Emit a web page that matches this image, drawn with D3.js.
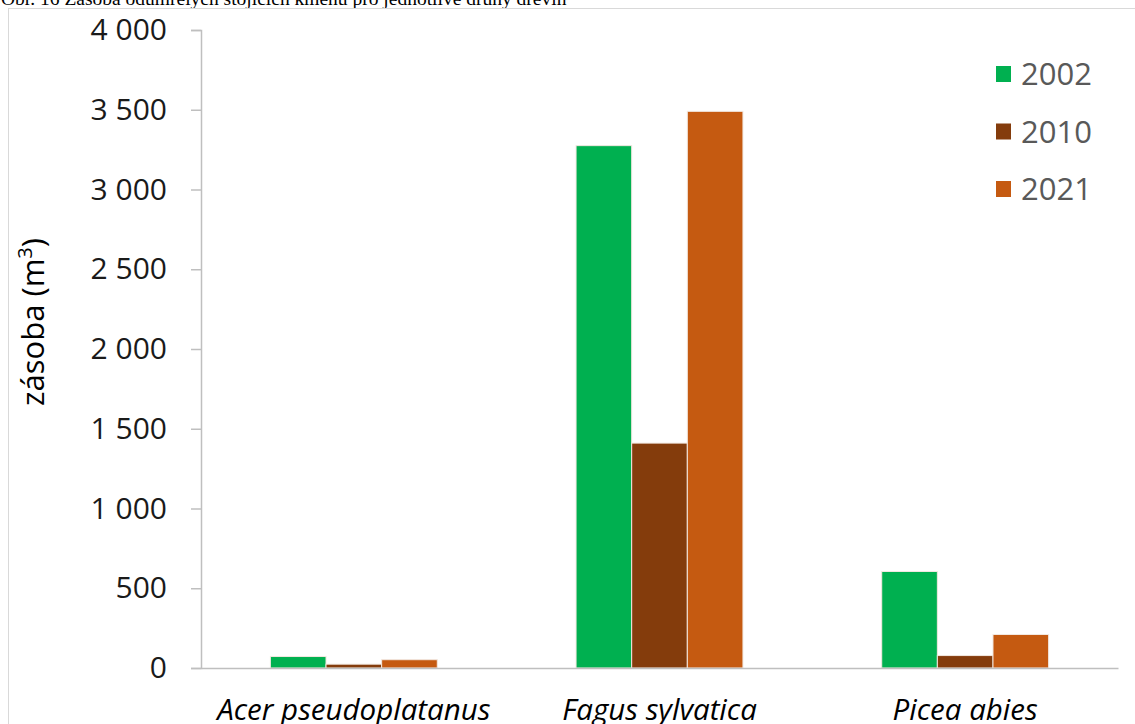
<!DOCTYPE html>
<html>
<head>
<meta charset="utf-8">
<script src="https://cdn.jsdelivr.net/npm/d3@7"></script>
<style>
  html, body { margin: 0; padding: 0; background: #fff; }
  svg { display: block; }
</style>
</head>
<body>
<svg id="chart" width="1135" height="724"></svg>
<script>
// Standing deadwood volume by tree species and survey year
const species = ["Acer pseudoplatanus", "Fagus sylvatica", "Picea abies"];
const years = ["2002", "2010", "2021"];
const vol2002 = [72, 3275, 605];
const vol2010 = [24, 1410, 78];
const vol2021 = [52, 3490, 210];
const yTicks = [0, 500, 1000, 1500, 2000, 2500, 3000, 3500, 4000];
const yearColors = ["#00B050", "#843C0C", "#C55A11"];

const seriesByYear = [vol2002, vol2010, vol2021];
const rows = species.map((s, i) => ({
  species: s,
  values: years.map((y, j) => ({ year: y, value: seriesByYear[j][i], color: yearColors[j] }))
}));

const svg = d3.select("#chart");
const fontUI = "'Open Sans', 'Noto Sans', sans-serif";

// caption above the chart frame
svg.append("text")
  .attr("x", 1).attr("y", 5)
  .attr("font-family", "'Liberation Serif', 'Times New Roman', serif")
  .attr("font-size", 19.5)
  .attr("fill", "#000")
  .text("Obr. 16 Zásoba odumřelých stojících kmenů pro jednotlivé druhy dřevin");

// chart frame
svg.append("rect")
  .attr("x", 8.5).attr("y", 8.5)
  .attr("width", 1140).attr("height", 730)
  .attr("fill", "none")
  .attr("stroke", "#d9d9d9")
  .attr("stroke-width", 1);

const plot = { left: 201, right: 1118, top: 30, bottom: 668 };

const y = d3.scaleLinear().domain([0, 4000]).range([plot.bottom, plot.top]);
const x0 = d3.scaleBand().domain(species)
  .range([plot.left, plot.right])
  .paddingInner(0.454).paddingOuter(0.227);
const x1 = d3.scaleBand().domain(years).range([0, x0.bandwidth()]).padding(0);

const csLocale = d3.formatLocale({ decimal: ",", thousands: " ", grouping: [3], currency: ["", " Kč"] });
const fmt = csLocale.format(",d");

// y axis
const yAxis = svg.append("g")
  .attr("transform", `translate(${plot.left},0)`)
  .call(d3.axisLeft(y).tickValues(yTicks).tickFormat(fmt).tickSize(10).tickPadding(24));
yAxis.select(".domain").attr("stroke", "#bfbfbf").attr("stroke-width", 1.5);
yAxis.selectAll(".tick line").attr("stroke", "#bfbfbf").attr("stroke-width", 1.5);
yAxis.selectAll(".tick text")
  .attr("font-family", fontUI)
  .attr("font-size", 30)
  .attr("fill", "#1a1a1a");

// bars
const groups = svg.append("g").selectAll("g")
  .data(rows).join("g")
  .attr("transform", d => `translate(${x0(d.species)},0)`);

groups.selectAll("rect")
  .data(d => d.values).join("rect")
  .attr("x", d => x1(d.year))
  .attr("y", d => y(d.value))
  .attr("width", x1.bandwidth())
  .attr("height", d => y(0) - y(d.value))
  .attr("fill", d => d.color)
  .attr("stroke", "#f2e8e0")
  .attr("stroke-width", 1);

// x axis baseline and species labels
const xAxis = svg.append("g")
  .attr("transform", `translate(0,${plot.bottom})`)
  .call(d3.axisBottom(x0).tickSize(0).tickPadding(31));
xAxis.select(".domain").attr("stroke", "#bfbfbf").attr("stroke-width", 1.5);
xAxis.selectAll(".tick text")
  .attr("font-family", fontUI)
  .attr("font-style", "italic")
  .attr("font-size", 29.5)
  .attr("fill", "#000");

// y axis title
svg.append("text")
  .attr("transform", "translate(44,322) rotate(-90)")
  .attr("text-anchor", "middle")
  .attr("font-family", fontUI)
  .attr("font-size", 31)
  .attr("fill", "#000")
  .call(t => {
    t.append("tspan").text("zásoba (m");
    t.append("tspan").attr("dy", -12).attr("font-size", 20).text("3");
    t.append("tspan").attr("dy", 12).text(")");
  });

// legend
const legend = svg.append("g").selectAll("g")
  .data(years).join("g")
  .attr("transform", (d, i) => `translate(996,${74 + i * 57.5})`);
legend.append("rect")
  .attr("x", 0).attr("y", -8)
  .attr("width", 15).attr("height", 16)
  .attr("fill", (d, i) => yearColors[i]);
legend.append("text")
  .attr("x", 25).attr("y", 0)
  .attr("dy", "0.36em")
  .attr("font-family", fontUI)
  .attr("font-size", 31)
  .attr("fill", "#595959")
  .text(d => d);
</script>
</body>
</html>
